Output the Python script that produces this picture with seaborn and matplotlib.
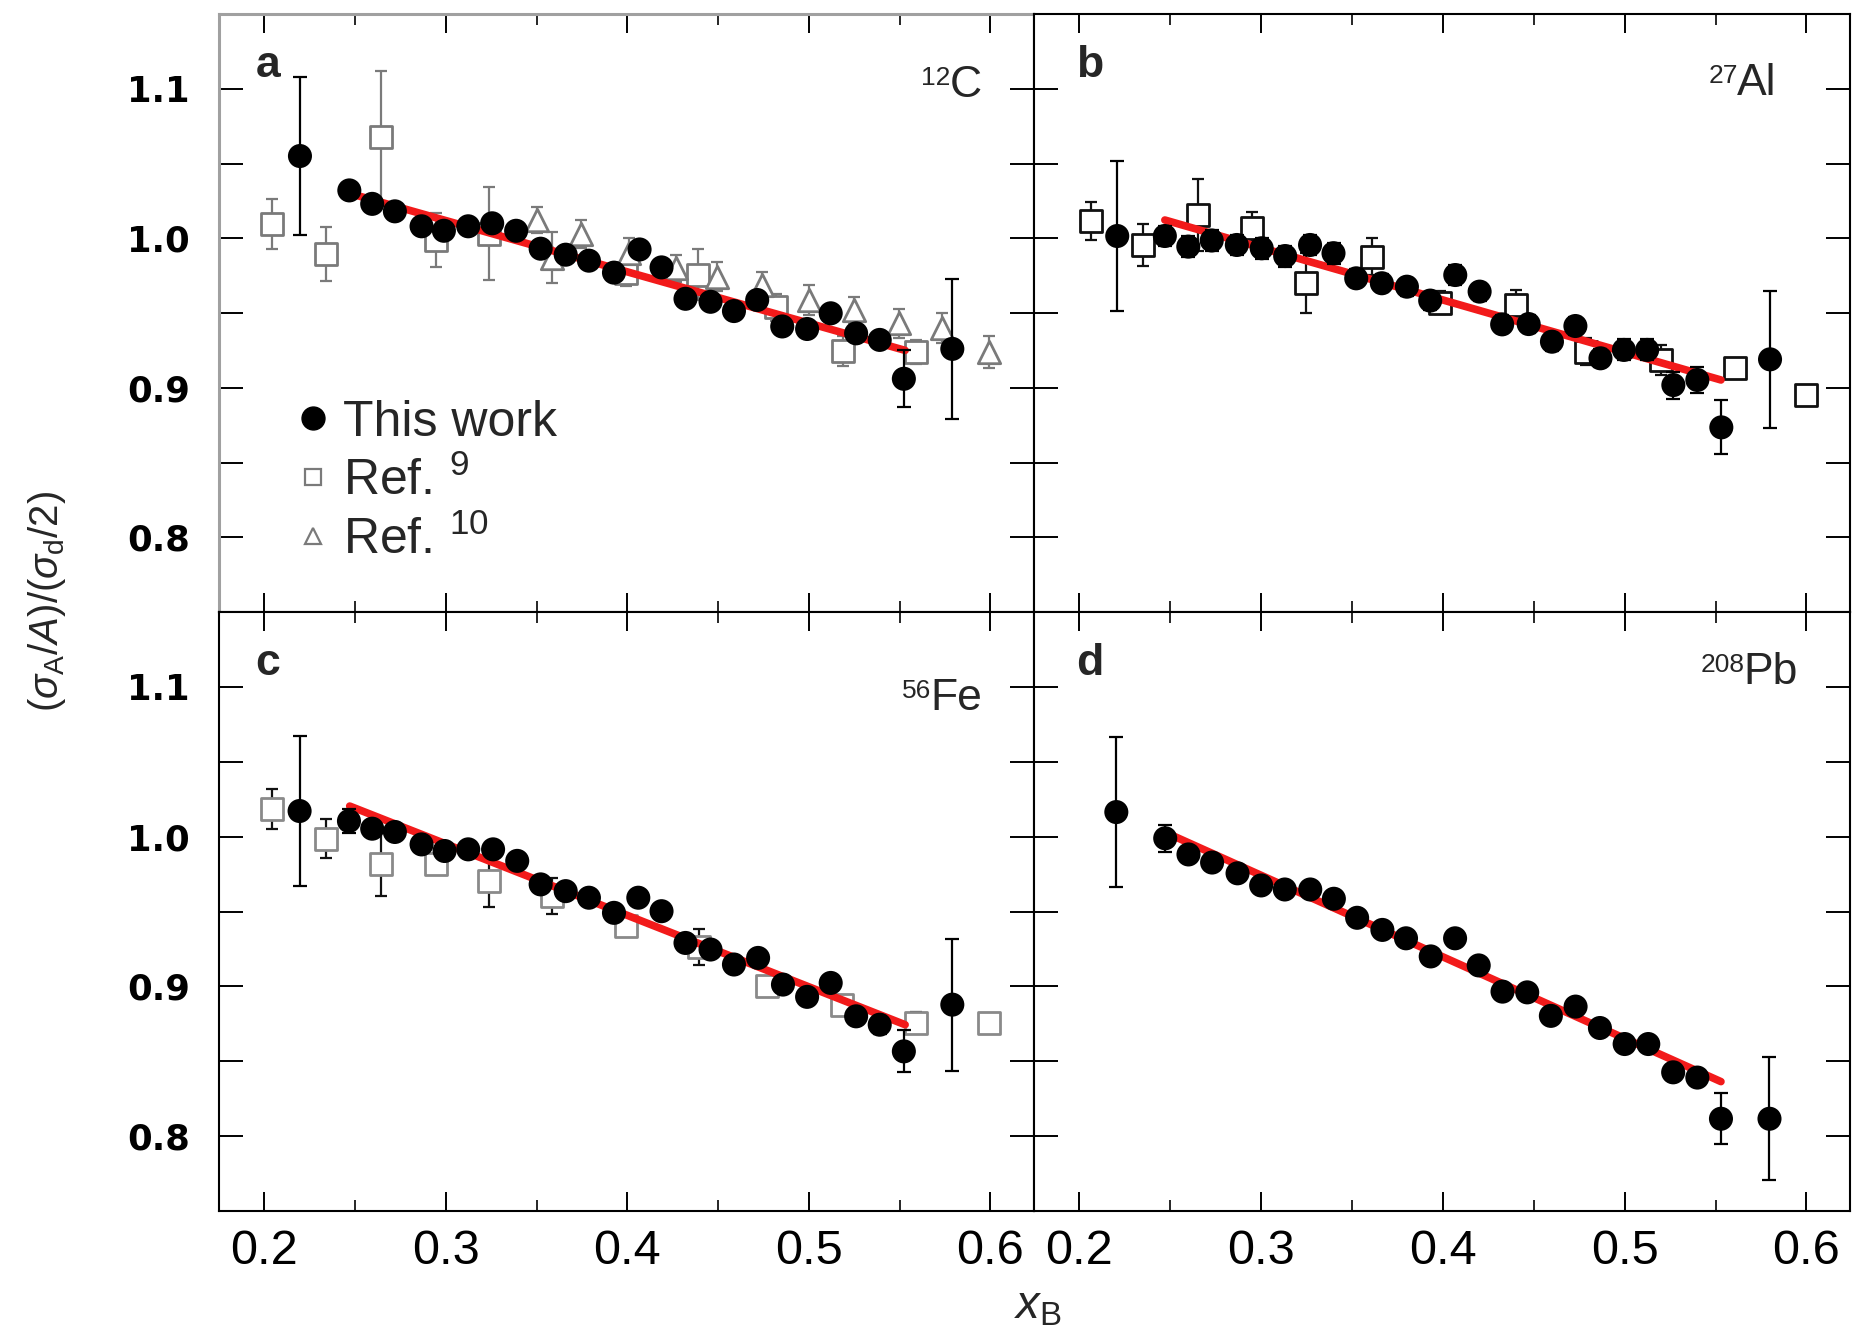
import matplotlib
matplotlib.use("Agg")
import matplotlib.pyplot as plt
import seaborn as sns
from matplotlib.lines import Line2D
from matplotlib.ticker import MultipleLocator

sns.set_theme(style="ticks")
plt.rcParams["font.family"] = ["Liberation Sans", "DejaVu Sans"]
plt.rcParams["mathtext.fontset"] = "custom"
plt.rcParams["mathtext.rm"] = "Liberation Sans"
plt.rcParams["mathtext.it"] = "Liberation Sans:italic"
plt.rcParams["mathtext.bf"] = "Liberation Sans:bold"

# ---------------- data: per-nucleon cross-section ratio vs x_B ----------------
# 12C
c_x = [0.2196, 0.2468, 0.2594, 0.2719, 0.2866, 0.2989, 0.3123, 0.3255, 0.3387, 0.3522,
       0.3660, 0.3788, 0.3926, 0.4067, 0.4188, 0.4320, 0.4458, 0.4587, 0.4715, 0.4853,
       0.4990, 0.5120, 0.5260, 0.5390, 0.5523, 0.5790]
c_y = [1.055, 1.032, 1.023, 1.018, 1.008, 1.005, 1.008, 1.010, 1.005, 0.993,
       0.989, 0.985, 0.977, 0.9925, 0.9805, 0.9595, 0.9575, 0.9513, 0.9587, 0.941,
       0.9393, 0.9498, 0.9364, 0.932, 0.906, 0.926]
c_err = [0.053, 0.005, 0.004, 0.004, 0.004, 0.004, 0.004, 0.004, 0.004, 0.004,
         0.004, 0.004, 0.004, 0.004, 0.004, 0.004, 0.004, 0.004, 0.004, 0.004,
         0.004, 0.005, 0.005, 0.005, 0.019, 0.047]
c_ref9_x = [0.2043, 0.2340, 0.2640, 0.2943, 0.3240, 0.3990, 0.4390, 0.4816, 0.5187, 0.5590]
c_ref9_y = [1.0095, 0.9895, 1.068, 0.9988, 1.003, 0.977, 0.9755, 0.9537, 0.9247, 0.924]
c_ref9_err = [0.0167, 0.018, 0.044, 0.018, 0.031, 0.009, 0.017, 0.009, 0.010, 0.008]
c_ref10_x = [0.3500, 0.3586, 0.3742, 0.4010, 0.4266, 0.4495, 0.4743, 0.5000, 0.5248,
             0.5496, 0.5735, 0.5991]
c_ref10_y = [1.0122, 0.987, 1.003, 0.990, 0.980, 0.9743, 0.9687, 0.9587, 0.952,
             0.943, 0.9398, 0.924]
c_ref10_err = [0.009, 0.017, 0.0095, 0.010, 0.009, 0.0095, 0.009, 0.010, 0.009,
               0.0095, 0.010, 0.0105]
c_fit_x = [0.247, 0.553]
c_fit_y = [1.030, 0.925]

# 27Al
al_x = [0.2208, 0.2470, 0.2599, 0.2728, 0.2866, 0.3003, 0.3132, 0.3269, 0.3398, 0.3523,
        0.3664, 0.3802, 0.3930, 0.4068, 0.4202, 0.4326, 0.4472, 0.4600, 0.4729, 0.4867,
        0.4996, 0.5124, 0.5268, 0.5400, 0.5532, 0.5800]
al_y = [1.0015, 1.0015, 0.9944, 0.9985, 0.9955, 0.9933, 0.9881, 0.9955, 0.990, 0.9732,
        0.9699, 0.9676, 0.9583, 0.9754, 0.9643, 0.9424, 0.9426, 0.9308, 0.9413, 0.9197,
        0.9253, 0.9253, 0.9018, 0.9052, 0.8735, 0.919]
al_err = [0.050, 0.007, 0.007, 0.007, 0.007, 0.007, 0.007, 0.007, 0.007, 0.006,
          0.006, 0.006, 0.006, 0.007, 0.006, 0.006, 0.006, 0.006, 0.006, 0.006,
          0.007, 0.007, 0.009, 0.009, 0.018, 0.046]
al_ref9_x = [0.2061, 0.2351, 0.2654, 0.2948, 0.3247, 0.3609, 0.3986, 0.4400, 0.4785,
             0.5198, 0.5605, 0.6000]
al_ref9_y = [1.0115, 0.9955, 1.0156, 1.0067, 0.9699, 0.9877, 0.957, 0.9553, 0.9241,
             0.9186, 0.913, 0.8952]
al_ref9_err = [0.013, 0.014, 0.024, 0.011, 0.020, 0.0123, 0.008, 0.010, 0.009,
               0.010, 0.006, 0.005]
al_fit_x = [0.247, 0.553]
al_fit_y = [1.0122, 0.9052]

# 56Fe
fe_x = [0.2194, 0.2466, 0.2594, 0.2719, 0.2866, 0.2993, 0.3123, 0.3260, 0.3393, 0.3522,
        0.3660, 0.3788, 0.3926, 0.4060, 0.4188, 0.4320, 0.4458, 0.4587, 0.4720, 0.4857,
        0.4990, 0.5120, 0.5260, 0.5390, 0.5523, 0.5790]
fe_y = [1.0171, 1.0104, 1.0053, 1.0031, 0.9948, 0.9904, 0.9915, 0.9915, 0.9838, 0.9681,
        0.9636, 0.9592, 0.9491, 0.9592, 0.9502, 0.929, 0.9246, 0.9146, 0.919, 0.9012,
        0.893, 0.9023, 0.880, 0.8744, 0.8566, 0.8878]
fe_err = [0.050, 0.008, 0.005, 0.005, 0.005, 0.005, 0.005, 0.005, 0.005, 0.005,
          0.005, 0.005, 0.005, 0.005, 0.005, 0.005, 0.005, 0.005, 0.005, 0.005,
          0.005, 0.005, 0.005, 0.006, 0.014, 0.044]
fe_ref9_x = [0.2043, 0.2340, 0.2640, 0.2943, 0.3240, 0.3586, 0.3990, 0.4394, 0.4770,
             0.5183, 0.5590, 0.5990]
fe_ref9_y = [1.0182, 0.9986, 0.9814, 0.9814, 0.9703, 0.9602, 0.9405, 0.926, 0.900,
             0.8878, 0.8756, 0.8756]
fe_ref9_err = [0.0133, 0.013, 0.021, 0.006, 0.017, 0.012, 0.005, 0.012, 0.006,
               0.006, 0.007, 0.006]
fe_fit_x = [0.247, 0.553]
fe_fit_y = [1.0204, 0.8744]

# 208Pb
pb_x = [0.2203, 0.2472, 0.2600, 0.2730, 0.2870, 0.3000, 0.3130, 0.3270, 0.3400, 0.3528,
        0.3667, 0.3797, 0.3933, 0.4067, 0.4197, 0.4328, 0.4464, 0.4594, 0.4730, 0.4864,
        0.5000, 0.5130, 0.5267, 0.5400, 0.5530, 0.5797]
pb_y = [1.0164, 0.9989, 0.9881, 0.9827, 0.9755, 0.9674, 0.9647, 0.9647, 0.9585, 0.9458,
        0.9377, 0.9321, 0.920, 0.9321, 0.914, 0.8965, 0.896, 0.8803, 0.8865, 0.8722,
        0.8615, 0.8615, 0.8426, 0.8391, 0.8116, 0.8116]
pb_err = [0.050, 0.009, 0.004, 0.004, 0.004, 0.004, 0.004, 0.004, 0.004, 0.004,
          0.004, 0.004, 0.004, 0.004, 0.004, 0.004, 0.004, 0.004, 0.004, 0.004,
          0.004, 0.004, 0.005, 0.005, 0.017, 0.041]
pb_fit_x = [0.247, 0.553]
pb_fit_y = [1.003, 0.8364]

panel_letters = ["a", "b", "c", "d"]
nucleus_mass = ["12", "27", "56", "208"]
nucleus_symbol = ["C", "Al", "Fe", "Pb"]
legend_labels = ["This work", r"Ref. $^{9}$", r"Ref. $^{10}$"]
x_ticks = [0.2, 0.3, 0.4, 0.5, 0.6]
x_tick_labels = ["0.2", "0.3", "0.4", "0.5", "0.6"]
y_ticks = [0.8, 0.9, 1.0, 1.1]
y_tick_labels = ["0.8", "0.9", "1.0", "1.1"]

panels = [
    dict(x=c_x, y=c_y, e=c_err, fx=c_fit_x, fy=c_fit_y,
         ref9=(c_ref9_x, c_ref9_y, c_ref9_err), ref10=(c_ref10_x, c_ref10_y, c_ref10_err),
         mcol="#7a7a7a", ecol="#7a7a7a", lab_pos=(0.936, 0.861)),
    dict(x=al_x, y=al_y, e=al_err, fx=al_fit_x, fy=al_fit_y,
         ref9=(al_ref9_x, al_ref9_y, al_ref9_err), ref10=None,
         mcol="#111111", ecol="#111111", lab_pos=(0.910, 0.865)),
    dict(x=fe_x, y=fe_y, e=fe_err, fx=fe_fit_x, fy=fe_fit_y,
         ref9=(fe_ref9_x, fe_ref9_y, fe_ref9_err), ref10=None,
         mcol="#8a8a8a", ecol="#111111", lab_pos=(0.936, 0.836)),
    dict(x=pb_x, y=pb_y, e=pb_err, fx=pb_fit_x, fy=pb_fit_y,
         ref9=None, ref10=None,
         mcol="#111111", ecol="#111111", lab_pos=(0.936, 0.880)),
]

# ---------------- layout ----------------
W, H = 1855, 1340
fig = plt.figure(figsize=(W / 100, H / 100), dpi=100)
left, mid_x, right = 219 / W, 1034 / W, 1850 / W
top, mid_y, bottom = 1 - 14 / H, 1 - 612 / H, 1 - 1211 / H
rects = [
    [left, mid_y, mid_x - left, top - mid_y],
    [mid_x, mid_y, right - mid_x, top - mid_y],
    [left, bottom, mid_x - left, mid_y - bottom],
    [mid_x, bottom, right - mid_x, mid_y - bottom],
]

RED = "#f21a1a"

for i, (p, rect) in enumerate(zip(panels, rects)):
    ax = fig.add_axes(rect)
    ax.set_facecolor("white")

    # earlier measurements: open symbols with error bars
    for ref, mk in ((p["ref9"], "s"), (p["ref10"], "^")):
        if ref is None:
            continue
        rx, ry, re = ref
        ax.errorbar(rx, ry, yerr=re, fmt="none", ecolor=p["ecol"], elinewidth=1.6,
                    capsize=4.5, capthick=1.6, zorder=2)
        sns.scatterplot(x=rx, y=ry, ax=ax, marker=mk, s=235 if mk == "s" else 260,
                        color="white", edgecolor=p["mcol"], linewidth=2.0,
                        zorder=3, legend=False)

    # linear fit over the EMC region
    sns.lineplot(x=p["fx"], y=p["fy"], ax=ax, color=RED, linewidth=5.5,
                 zorder=4, legend=False)

    # this measurement
    ax.errorbar(p["x"], p["y"], yerr=p["e"], fmt="none", ecolor="black",
                elinewidth=1.6, capsize=5, capthick=1.6, zorder=5)
    sns.scatterplot(x=p["x"], y=p["y"], ax=ax, marker="o", s=300, color="black",
                    edgecolor="none", linewidth=0, zorder=6, legend=False)

    ax.set_xlim(0.175, 0.624)
    ax.set_ylim(0.75, 1.15)
    ax.set_xlabel("")
    ax.set_ylabel("")

    ax.set_xticks(x_ticks, labels=x_tick_labels,
                  fontfamily=["Liberation Sans Narrow", "Liberation Sans"], fontsize=35)
    ax.xaxis.set_minor_locator(MultipleLocator(0.05))
    ax.set_yticks(y_ticks, labels=y_tick_labels,
                  fontfamily=["DejaVu Sans"], fontweight="bold", fontsize=25.5)
    ax.yaxis.set_minor_locator(MultipleLocator(0.05))

    ax.tick_params(axis="x", which="major", direction="in", length=14, width=1.4,
                   top=True, bottom=True, pad=13, colors="black")
    ax.tick_params(axis="x", which="minor", direction="in", length=8, width=1.4,
                   top=True, bottom=True)
    ax.tick_params(axis="y", which="both", direction="in", length=17, width=1.4,
                   left=True, right=True, pad=21, colors="black")
    if i < 2:
        ax.tick_params(axis="x", labelbottom=False)
    if i % 2 == 1:
        ax.tick_params(axis="y", labelleft=False)

    for name, sp in ax.spines.items():
        sp.set_visible(True)
        sp.set_color("black")
        sp.set_linewidth(1.5)
    if i == 0:
        ax.spines["left"].set_color("#a0a0a0")
        ax.spines["top"].set_color("#a0a0a0")
        ax.spines["left"].set_linewidth(2.2)
        ax.spines["top"].set_linewidth(2.2)

    # panel letter and nucleus
    ax.text(0.045 if i % 2 == 0 else 0.052, 0.895, panel_letters[i],
            transform=ax.transAxes, fontsize=32, fontweight="bold",
            ha="left", va="baseline")
    sym = ax.text(p["lab_pos"][0], p["lab_pos"][1], nucleus_symbol[i],
                  transform=ax.transAxes, fontsize=32, ha="right", va="baseline")
    ax.annotate(nucleus_mass[i], xy=(0.02, 0.97), xycoords=sym, fontsize=19,
                ha="right", va="top")

    if i == 0:
        handles = [
            Line2D([], [], ls="none", marker="o", ms=16.5, mfc="black", mec="black"),
            Line2D([], [], ls="none", marker="s", ms=11, mfc="white", mec="#7a7a7a", mew=1.6),
            Line2D([], [], ls="none", marker="^", ms=12, mfc="white", mec="#7a7a7a", mew=1.6),
        ]
        ax.legend(handles, legend_labels, loc="upper left", bbox_to_anchor=(0.094, 0.355),
                  frameon=False, fontsize=36, handlelength=0.7, handletextpad=0.25,
                  labelspacing=0.22, borderpad=0, borderaxespad=0)

fig.text(0.0255, 0.5515, r"$(\sigma_{\mathrm{A}}/A)/(\sigma_{\mathrm{d}}/2)$",
         rotation=90, fontsize=29, ha="center", va="center")
fig.text(0.5596, 0.0157, r"$x_{\mathrm{B}}$", fontsize=34, ha="center", va="baseline")

fig.savefig("out.png", dpi=100)
